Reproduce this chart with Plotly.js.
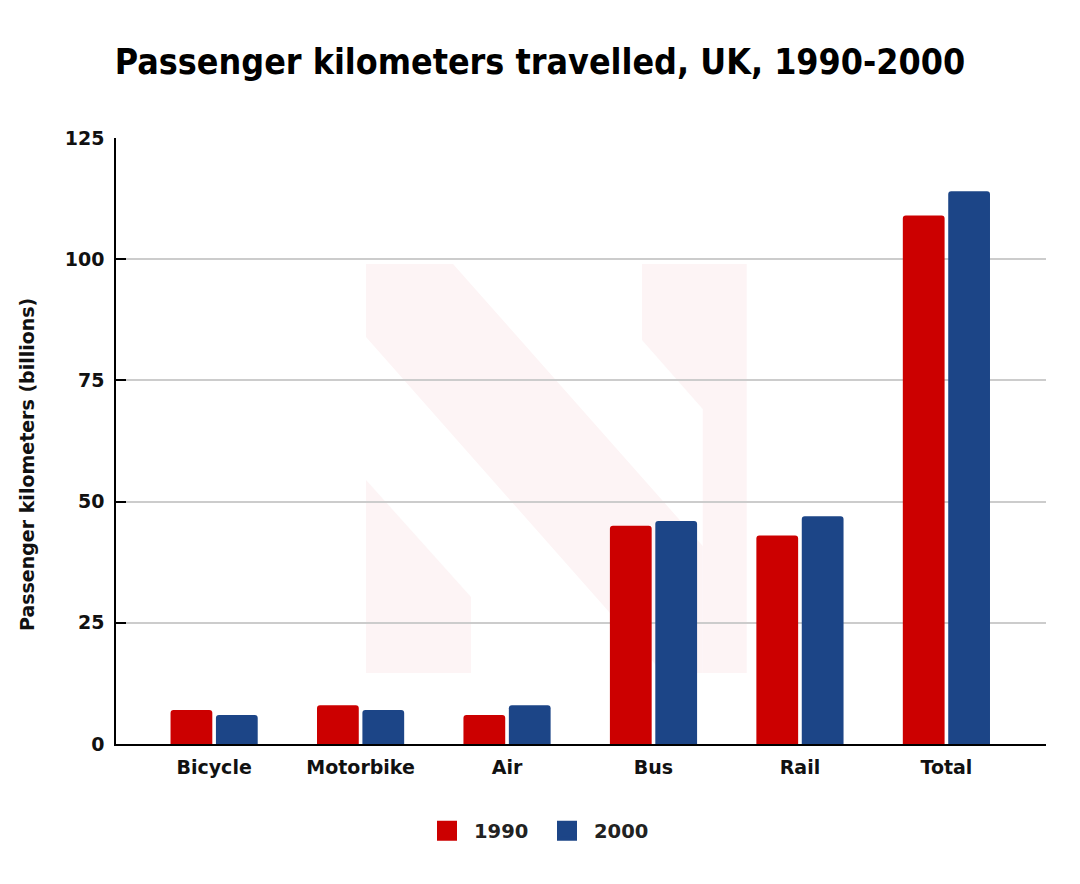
<!DOCTYPE html>
<html>
<head>
<meta charset="utf-8">
<script src="https://cdn.plot.ly/plotly-3.0.1.min.js"></script>
<style>html,body{margin:0;padding:0;background:#fff}#chart{width:1080px;height:884px}</style>
</head>
<body>
<div id="chart"></div>
<script>
var categories = ["Bicycle", "Motorbike", "Air", "Bus", "Rail", "Total"];
var values1990 = [7, 8, 6, 45, 43, 109];
var values2000 = [6, 7, 8, 46, 47, 114];
var seriesNames = ["1990", "2000"];
var seriesColors = ["#cc0000", "#1c4587"];
var yTicks = [0, 25, 50, 75, 100, 125];

var FONT_T = "DejaVu Sans Condensed, DejaVu Sans, sans-serif";
var FONT = "DejaVu Sans, sans-serif";
var W = 1080, H = 884, L = 116, R = 34, T = 138, B = 140;
var pw = W - L - R, ph = H - T - B;

// faint watermark (decoration) in pixel coordinates -> paper
var wm = [
  [[366,480],[471,597],[471,673],[366,673]],
  [[366,264],[453,264],[702.7,546],[702.7,673],[663,673],[366,337]],
  [[642,264],[746.7,264],[746.7,673],[702.7,673],[702.7,409],[642,340]]
];
var shapes = wm.map(function(poly){
  var d = poly.map(function(p,i){
    return (i ? "L" : "M") + ((p[0]-L)/pw).toFixed(4) + "," + ((H-B-p[1])/ph).toFixed(4);
  }).join("") + "Z";
  return {type:"path", xref:"paper", yref:"paper", path:d, fillcolor:"#fdf4f5", line:{width:0}, layer:"below"};
});

var traces = [
  {type:"bar", name:seriesNames[0], x:categories, y:values1990, marker:{color:seriesColors[0], cornerradius:3}, showlegend:false, legendgroup:"a"},
  {type:"bar", name:seriesNames[1], x:categories, y:values2000, marker:{color:seriesColors[1], cornerradius:3}, showlegend:false, legendgroup:"b"},
  {type:"scatter", mode:"markers", name:seriesNames[0], x:[null], y:[null], marker:{symbol:"square", size:16, color:seriesColors[0], line:{width:4, color:seriesColors[0]}}, legendgroup:"a", hoverinfo:"skip"},
  {type:"scatter", mode:"markers", name:seriesNames[1], x:[null], y:[null], marker:{symbol:"square", size:16, color:seriesColors[1], line:{width:4, color:seriesColors[1]}}, legendgroup:"b", hoverinfo:"skip"}
];

var layout = {
  width: W, height: H,
  margin: {l:L, r:R, t:T, b:B, pad:0},
  paper_bgcolor:"#ffffff", plot_bgcolor:"rgba(0,0,0,0)",
  font: {family: FONT, color:"#000", size:18, weight:"bold"},
  title: {text:"Passenger kilometers travelled, UK, 1990-2000", x:0.5, xanchor:"center", y:0.93, yanchor:"middle",
          font:{family:FONT_T, size:35.5, weight:"bold", color:"#000"}},
  barmode:"group", bargap:0.38, bargroupgap:0.08,
  xaxis: {type:"category", range:[-0.67, 5.68], showline:true, linecolor:"#000", linewidth:1.5,
          ticks:"", showgrid:false, tickfont:{family:FONT, size:19, weight:"bold", color:"#111"}, ticklabelstandoff:5, fixedrange:true},
  yaxis: {range:[0,125], tickvals:yTicks, ticktext:yTicks.map(String), showline:true, linecolor:"#000", linewidth:1.5,
          ticks:"inside", ticklen:10, tickcolor:"#000", tickwidth:1.5,
          showgrid:true, gridcolor:"#cccccc", gridwidth:1.5, zeroline:false,
          tickfont:{family:FONT, size:19, weight:"bold", color:"#111"}, ticklabelstandoff:6,
          automargin:false, fixedrange:true},
  annotations: [{text:"Passenger kilometers (billions)", textangle:-90, xref:"paper", yref:"paper",
                 x:(27-L)/pw, y:(H-B-465)/ph, xanchor:"center", yanchor:"middle", showarrow:false,
                 font:{family:FONT, size:19, weight:"bold", color:"#111"}}],
  legend: {orientation:"h", x:(420-L)/pw, xanchor:"left", y:-(831-(H-B))/ph, yanchor:"middle",
           font:{family:FONT, size:19.5, weight:"bold", color:"#222"}, itemwidth:44,
           entrywidth:61, entrywidthmode:"pixels", traceorder:"normal"},
  shapes: shapes,
  showlegend:true
};

Plotly.newPlot("chart", traces, layout, {displayModeBar:false});
</script>
</body>
</html>
